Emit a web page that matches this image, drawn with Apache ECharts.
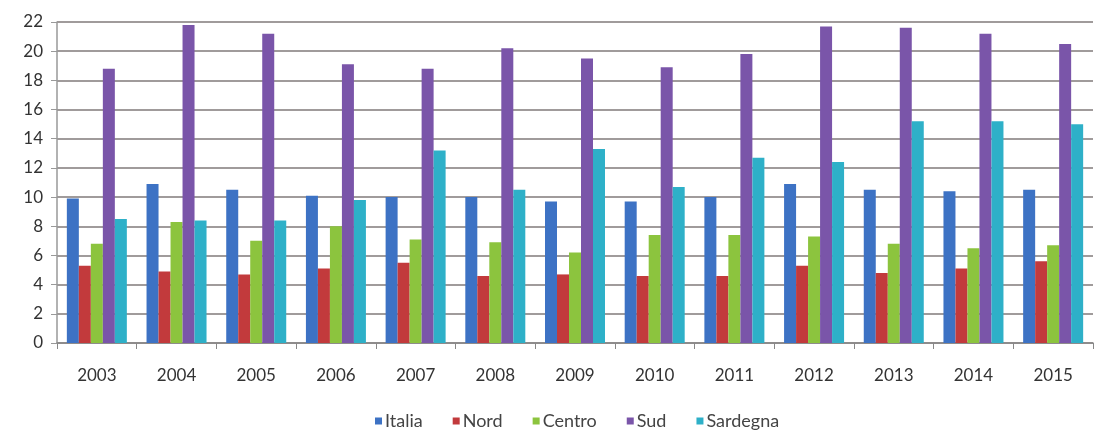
<!DOCTYPE html>
<html>
<head>
<meta charset="utf-8">
<script src="https://cdn.jsdelivr.net/npm/echarts@6/dist/echarts.min.js"></script>
<style>
  html, body { margin: 0; padding: 0; background: #fff; }
  #chart { width: 1094px; height: 437px; }
</style>
</head>
<body>
<div id="chart"></div>
<script>
const years = ['2003', '2004', '2005', '2006', '2007', '2008', '2009', '2010', '2011', '2012', '2013', '2014', '2015'];
const italia   = [9.9, 10.9, 10.5, 10.1, 10.0, 10.0, 9.7, 9.7, 10.0, 10.9, 10.5, 10.4, 10.5];
const nord     = [5.3, 4.9, 4.7, 5.1, 5.5, 4.6, 4.7, 4.6, 4.6, 5.3, 4.8, 5.1, 5.6];
const centro   = [6.8, 8.3, 7.0, 8.0, 7.1, 6.9, 6.2, 7.4, 7.4, 7.3, 6.8, 6.5, 6.7];
const sud      = [18.8, 21.8, 21.2, 19.1, 18.8, 20.2, 19.5, 18.9, 19.8, 21.7, 21.6, 21.2, 20.5];
const sardegna = [8.5, 8.4, 8.4, 9.8, 13.2, 10.5, 13.3, 10.7, 12.7, 12.4, 15.2, 15.2, 15.0];

const font = 'Lato, "Open Sans", sans-serif';

function bar(name, data, color) {
    return {
        name: name,
        type: 'bar',
        data: data,
        barWidth: 12,
        barGap: '0%',
        itemStyle: { color: color }
    };
}

echarts.init(document.querySelector('#chart')).setOption({
    animation: false,
    grid: { left: 57, right: 1, top: 22, bottom: 94 },
    legend: {
        bottom: 2,
        left: 370,
        itemWidth: 7,
        itemHeight: 7,
        itemGap: 30,
        icon: 'rect',
        textStyle: { fontFamily: font, fontSize: 18, color: '#444', padding: [0, 0, 0, -2] },
        data: ['Italia', 'Nord', 'Centro', 'Sud', 'Sardegna']
    },
    xAxis: {
        type: 'category',
        data: years,
        axisLine: { lineStyle: { color: '#888', width: 1.5 } },
        axisTick: { show: true, length: 6, lineStyle: { color: '#888' } },
        axisLabel: { margin: 24, fontFamily: font, fontSize: 17, color: '#333' }
    },
    yAxis: {
        type: 'value',
        min: 0,
        max: 22,
        interval: 2,
        axisLine: { show: true, lineStyle: { color: '#999', width: 1.5 } },
        axisTick: { show: true, length: 6, lineStyle: { color: '#999' } },
        axisLabel: { margin: 14, fontFamily: font, fontSize: 17, color: '#333' },
        splitLine: { lineStyle: { color: '#807a7a', width: 1.6 } }
    },
    series: [
        bar('Italia', italia, '#3d72c4'),
        bar('Nord', nord, '#c23a3c'),
        bar('Centro', centro, '#8cc43e'),
        bar('Sud', sud, '#7a55a9'),
        bar('Sardegna', sardegna, '#2eb0c8')
    ]
});
</script>
</body>
</html>
